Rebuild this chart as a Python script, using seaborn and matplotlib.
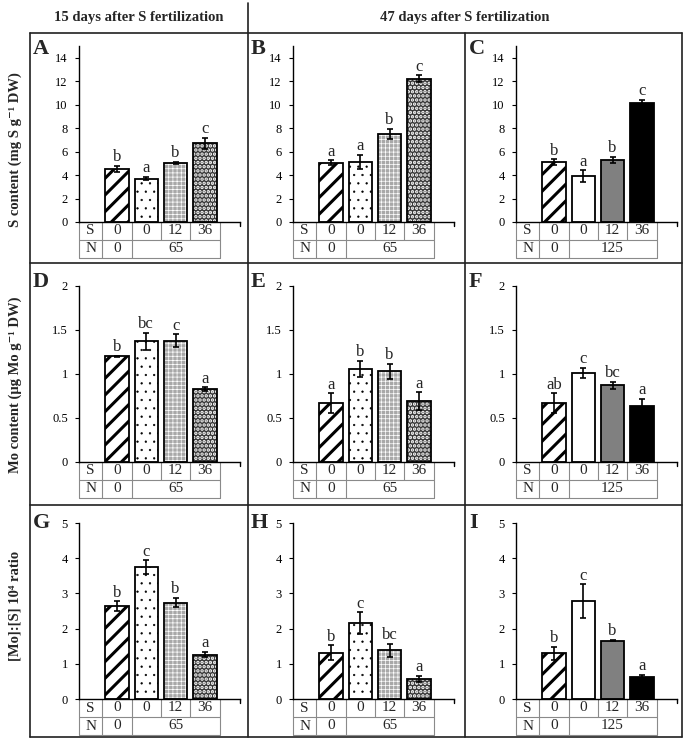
import matplotlib
matplotlib.use('Agg')
import matplotlib.pyplot as plt
import matplotlib.transforms as mtransforms
from matplotlib.lines import Line2D
import seaborn as sns
import numpy as np

# ---- data ----
treatments = ['N0S0', 'NS0', 'NS12', 'NS36']
s_doses = ['0', '0', '12', '36']
n_zero = '0'
n_dose_15d = '65'
n_dose_47d_a = '65'
n_dose_47d_b = '125'

headers = ['15 days after S fertilization', '47 days after S fertilization']
ylabels = ['S content (mg S g\u207b\u00b9 DW)',
           'Mo content (\u03bcg Mo g\u207b\u00b9 DW)',
           '[Mo]:[S] 10\u2074 ratio']
letters = ['A', 'B', 'C', 'D', 'E', 'F', 'G', 'H', 'I']

# S content
s_15 = [4.55, 3.70, 5.05, 6.70]
s_15_err = [0.25, 0.15, 0.10, 0.50]
s_15_sig = ['b', 'a', 'b', 'c']
s_47a = [5.05, 5.10, 7.50, 12.20]
s_47a_err = [0.20, 0.60, 0.42, 0.30]
s_47a_sig = ['a', 'a', 'b', 'c']
s_47b = [5.10, 3.90, 5.30, 10.10]
s_47b_err = [0.25, 0.50, 0.28, 0.30]
s_47b_sig = ['b', 'a', 'b', 'c']

# Mo content
mo_15 = [1.20, 1.37, 1.38, 0.83]
mo_15_err = [0.01, 0.10, 0.07, 0.02]
mo_15_sig = ['b', 'bc', 'c', 'a']
mo_47a = [0.67, 1.06, 1.03, 0.69]
mo_47a_err = [0.11, 0.09, 0.085, 0.10]
mo_47a_sig = ['a', 'b', 'b', 'a']
mo_47b = [0.67, 1.01, 0.87, 0.64]
mo_47b_err = [0.11, 0.06, 0.04, 0.075]
mo_47b_sig = ['ab', 'c', 'bc', 'a']

# Mo:S ratio
r_15 = [2.64, 3.74, 2.74, 1.26]
r_15_err = [0.13, 0.20, 0.14, 0.07]
r_15_sig = ['b', 'c', 'b', 'a']
r_47a = [1.32, 2.15, 1.38, 0.57]
r_47a_err = [0.20, 0.31, 0.19, 0.08]
r_47a_sig = ['b', 'c', 'bc', 'a']
r_47b = [1.30, 2.78, 1.66, 0.63]
r_47b_err = [0.19, 0.48, 0.02, 0.06]
r_47b_sig = ['b', 'c', 'b', 'a']

row_ylim = [15, 2, 5]
row_ticks = [np.arange(0, 15, 2), np.arange(0, 2.01, 0.5), np.arange(0, 6, 1)]

# bar fills: (face, hatch colour, hatch, hatch linewidth)
patterned = [('white', 'black', '//', 2.2),
             ('white', 'black', '..', 0.4),
             ('#a8a8a8', 'white', '++++', 0.5),
             ('#383838', 'white', '....', 1.7)]
shaded = [('white', 'black', '//', 2.2),
          ('white', 'white', '', 0),
          ('#808080', '#808080', '', 0),
          ('black', 'black', '', 0)]

panels = [
    (s_15, s_15_err, s_15_sig, n_dose_15d, patterned),
    (s_47a, s_47a_err, s_47a_sig, n_dose_47d_a, patterned),
    (s_47b, s_47b_err, s_47b_sig, n_dose_47d_b, shaded),
    (mo_15, mo_15_err, mo_15_sig, n_dose_15d, patterned),
    (mo_47a, mo_47a_err, mo_47a_sig, n_dose_47d_a, patterned),
    (mo_47b, mo_47b_err, mo_47b_sig, n_dose_47d_b, shaded),
    (r_15, r_15_err, r_15_sig, n_dose_15d, patterned),
    (r_47a, r_47a_err, r_47a_sig, n_dose_47d_a, patterned),
    (r_47b, r_47b_err, r_47b_sig, n_dose_47d_b, shaded),
]

# ---- style ----
sns.set_style('white')
plt.rcParams['font.family'] = ['Liberation Serif', 'DejaVu Serif']
plt.rcParams['hatch.linewidth'] = 1.0

W, H = 690, 745
fig = plt.figure(figsize=(6.9, 7.45), dpi=100)


def fx(px):
    return px / W


def fy(py):
    return 1 - py / H


col_left = [79, 293, 516]
ax_w = 161
ax_h = 176
row_zero = [222, 462, 699]
table_h = 18 / ax_h
grid_col = '#8a8a8a'

for k, (vals, errs, sig, n_dose, fills) in enumerate(panels):
    r, c = divmod(k, 3)
    ax = fig.add_axes([fx(col_left[c]), fy(row_zero[r]), ax_w / W, ax_h / H])

    sns.barplot(x=treatments, y=vals, order=treatments, ax=ax, color='white',
                width=0.8, errorbar=None, linewidth=0)
    for p, (face, hcol, hatch, hlw) in zip(ax.patches, fills):
        p.set_facecolor(face)
        p.set_edgecolor(hcol)
        if hatch:
            p.set_hatch(hatch)
            if hasattr(p, 'set_hatch_linewidth'):
                p.set_hatch_linewidth(hlw)
    # outlines
    sns.barplot(x=treatments, y=vals, order=treatments, ax=ax, fill=False,
                color='black', width=0.8, errorbar=None, linewidth=1.3)

    xs = np.arange(len(treatments))
    ax.errorbar(xs, vals, yerr=errs, fmt='none', ecolor='black',
                elinewidth=1.2, capsize=2.5, capthick=1.2, zorder=5)
    for x, v, e, s in zip(xs, vals, errs, sig):
        ax.annotate(s, xy=(x, v + e), xytext=(0, 0.5), textcoords='offset points',
                    ha='center', va='bottom', fontsize=12)

    ax.set_xlim(-1.3, 4.2)
    ax.set_ylim(0, row_ylim[r])
    ax.set_yticks(row_ticks[r])
    ax.set_yticklabels([f'{t:g}' for t in row_ticks[r]])
    ax.set_xticks([])
    ax.set_xlabel('')
    ax.set_ylabel('')
    for sp in ['top', 'right']:
        ax.spines[sp].set_visible(False)
    for sp in ['left', 'bottom']:
        ax.spines[sp].set_color('black')
        ax.spines[sp].set_linewidth(1.0)
    ax.tick_params(axis='y', direction='out', length=3, width=0.8, pad=5,
                   labelsize=9, colors='black', left=True)
    ax.patch.set_alpha(0)
    # small tick at the right end of the x axis
    ax.plot([1, 1], [0, -4 / ax_h], transform=ax.transAxes, color='black',
            lw=1.0, clip_on=False)

    # S / N table under the axis
    tr = mtransforms.blended_transform_factory(ax.transData, ax.transAxes)
    x0, x1 = -1.3, len(treatments) - 0.5
    kw = dict(transform=tr, color=grid_col, lw=0.8, clip_on=False)
    ax.plot([x0, x1], [-table_h, -table_h], **kw)
    ax.plot([x0, x1], [-2 * table_h, -2 * table_h], **kw)
    for xv in [x0, -0.5, 0.5, x1]:
        ax.plot([xv, xv], [0, -2 * table_h], **kw)
    for xv in [1.5, 2.5]:
        ax.plot([xv, xv], [0, -table_h], **kw)
    tkw = dict(transform=tr, ha='center', va='center', fontsize=11, clip_on=False)
    ax.text((x0 - 0.5) / 2, -0.5 * table_h, 'S', **tkw)
    ax.text((x0 - 0.5) / 2, -1.5 * table_h, 'N', **tkw)
    for x, s in zip(xs, s_doses):
        ax.text(x, -0.45 * table_h, s, **tkw)
    ax.text(0, -1.45 * table_h, n_zero, **tkw)
    ax.text(2, -1.45 * table_h, n_dose, **tkw)

# panel letters
letter_x = [33, 251, 469]
letter_y = [39, 272, 513]
for k, lab in enumerate(letters):
    r, c = divmod(k, 3)
    fig.text(fx(letter_x[c]), fy(letter_y[r]), lab, fontsize=16,
             fontweight='bold', ha='left', va='top')

# y labels
for lab, yc in zip(ylabels, [150, 385, 606]):
    fig.text(fx(15), fy(yc), lab, rotation=90, ha='center', va='center',
             fontsize=10.5, fontweight='bold')

# headers
fig.text(fx(139), fy(17), headers[0], ha='center', va='center',
         fontsize=10.5, fontweight='bold')
fig.text(fx(465), fy(17), headers[1], ha='center', va='center',
         fontsize=10.5, fontweight='bold')

# frame
lkw = dict(color='#202020', lw=1.2)
frame = [((30, 682), (33, 33)), ((30, 682), (737, 737)),
         ((30, 30), (33, 737)), ((682, 682), (33, 737)),
         ((248, 248), (3, 737)), ((465, 465), (33, 737)),
         ((30, 682), (263, 263)), ((30, 682), (505, 505))]
for (xa, xb), (ya, yb) in frame:
    fig.add_artist(Line2D([fx(xa), fx(xb)], [fy(ya), fy(yb)], **lkw))

fig.savefig('out.png', dpi=100)
